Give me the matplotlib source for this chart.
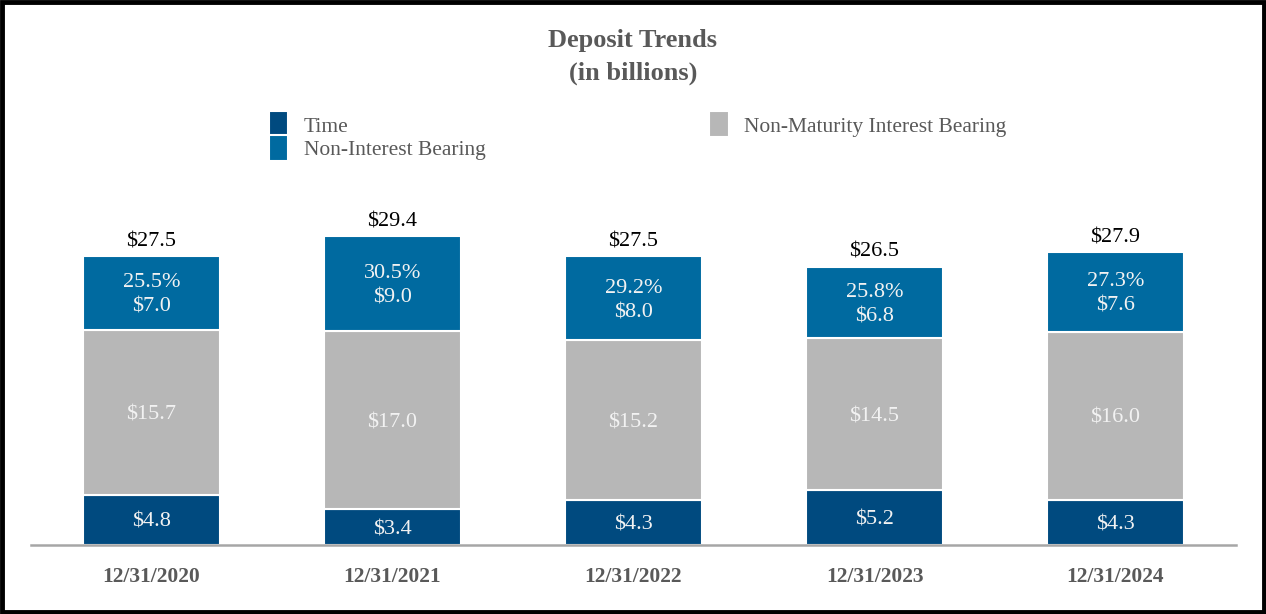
import matplotlib.pyplot as plt
from matplotlib.patches import Rectangle

dates = ["12/31/2020", "12/31/2021", "12/31/2022", "12/31/2023", "12/31/2024"]
time_dep = [4.8, 3.4, 4.3, 5.2, 4.3]
non_maturity = [15.7, 17.0, 15.2, 14.5, 16.0]
non_interest = [7.0, 9.0, 8.0, 6.8, 7.6]
nib_pct = ["25.5%", "30.5%", "29.2%", "25.8%", "27.3%"]
totals = [27.5, 29.4, 27.5, 26.5, 27.9]

c_time = "#004A7F"
c_nmib = "#B7B7B7"
c_nib = "#006AA0"
grey_txt = "#595959"

plt.rcParams['font.family'] = ['Liberation Serif', 'DejaVu Serif']

fig = plt.figure(figsize=(12.66, 6.14), dpi=100)
W, H = 1266, 614
ax_h = 545 - 180
ax = fig.add_axes([31 / W, (H - 545) / H, 1205 / W, ax_h / H])

x = list(range(len(dates)))
bw = 0.568
b1 = ax.bar(x, time_dep, bw, color=c_time, edgecolor="white", linewidth=1.5, label="Time")
bottom2 = time_dep
b2 = ax.bar(x, non_maturity, bw, bottom=bottom2, color=c_nmib, edgecolor="white",
            linewidth=1.5, label="Non-Maturity Interest Bearing")
bottom3 = [a + b for a, b in zip(time_dep, non_maturity)]
b3 = ax.bar(x, non_interest, bw, bottom=bottom3, color=c_nib, edgecolor="white",
            linewidth=1.5, label="Non-Interest Bearing")

lbl = dict(ha="center", va="center_baseline", color="#F2F2F2", fontsize=16)
for i in x:
    ax.text(i, time_dep[i] / 2, f"${time_dep[i]:.1f}", **lbl)
    ax.text(i, bottom2[i] + non_maturity[i] / 2, f"${non_maturity[i]:.1f}", **lbl)
    ax.text(i, bottom3[i] + non_interest[i] / 2 - 0.2, f"{nib_pct[i]}\n${non_interest[i]:.1f}",
            linespacing=1.4, ha="center", va="center", color="#F2F2F2", fontsize=16)
    ax.text(i, totals[i] + 1.6, f"${totals[i]:.1f}", ha="center", va="center_baseline",
            color="black", fontsize=16)

ax.set_xlim(-0.5, 4.5)
ax.set_ylim(0, ax_h / 10.5)
ax.set_xticks(x)
ax.set_xticklabels(dates, fontsize=15.5, fontweight="bold", color=grey_txt)
ax.tick_params(axis="x", length=0, pad=16)
ax.set_yticks([])
for s in ["top", "right", "left"]:
    ax.spines[s].set_visible(False)
ax.spines["bottom"].set_color("#A6A6A6")
ax.spines["bottom"].set_linewidth(1.8)

fig.text(0.5, 1 - 41 / H, "Deposit Trends", ha="center", va="center",
         fontsize=19, fontweight="bold", color=grey_txt)
fig.text(0.5, 1 - 73 / H, "(in billions)", ha="center", va="center",
         fontsize=19, fontweight="bold", color=grey_txt)

leg = fig.legend(handles=[b1, b3, b2], loc="upper left", bbox_to_anchor=(258 / W, 1 - 104 / H),
                 ncol=2, frameon=False, fontsize=15.5, handlelength=0.9, handleheight=1.0,
                 handletextpad=0.72, columnspacing=10.4, labelspacing=0.08, borderpad=0)
for t in leg.get_texts():
    t.set_color(grey_txt)
for p in leg.legend_handles:
    p.set_height(19)
    p.set_y(-4)

fig.add_artist(Rectangle((0.0015, 0.0025), 0.997, 0.995, transform=fig.transFigure,
                         fill=False, edgecolor="black", linewidth=3.5))

fig.savefig("out.png", dpi=100)
